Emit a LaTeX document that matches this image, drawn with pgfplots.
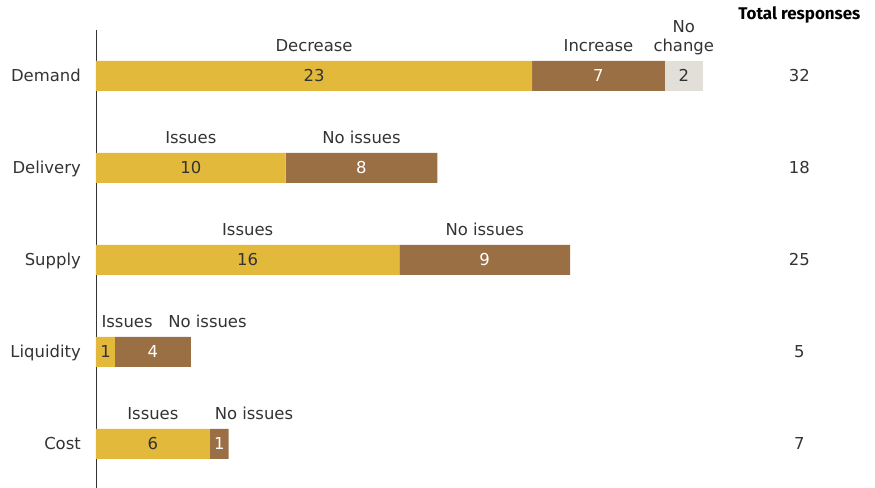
\documentclass[border=0pt]{standalone}
\usepackage{pgfplots}
\pgfplotsset{compat=1.18}
\usepackage{fontspec}
\setmainfont{DejaVu Sans}
\newfontfamily\headfont{Fira Sans}
\definecolor{gold}{HTML}{E3B93B}
\definecolor{brown}{HTML}{9B6F44}
\definecolor{lgray}{HTML}{E2DFD8}
\definecolor{txt}{HTML}{333333}
\newcommand{\lf}{\fontsize{16.5}{19}\selectfont}
\begin{document}
\begin{tikzpicture}[x=1bp,y=1bp]
\pgfplotsset{base/.style={
  at={(0,0)}, anchor=south west, scale only axis,
  width=758.4bp, height=458bp,
  xmin=0, xmax=40, ymin=-0.5, ymax=4.48, y dir=reverse,
  clip=false,
}}
\path[use as bounding box] (-96,0) rectangle (779,488);
\begin{axis}[base, xbar stacked, bar width=30bp,
  hide x axis, axis y line*=left,
  axis line style={txt, line width=0.8bp},
  ytick={0,1,2,3,4}, yticklabels={Demand,Delivery,Supply,Liquidity,Cost},
  major tick length=0pt,
  yticklabel style={font=\lf, text=txt, inner sep=0pt, anchor=base east, xshift=-15bp, yshift=-6bp},
]
\addplot[fill=gold, draw=none] coordinates {(23,0) (10,1) (16,2) (1,3) (6,4)};
\addplot[fill=brown, draw=none] coordinates {(7,0) (8,1) (9,2) (4,3) (1,4)};
\addplot[fill=lgray, draw=none] coordinates {(2,0)};
\end{axis}
\begin{axis}[base, hide axis]
% numbers inside bars, dark
\addplot[draw=none, mark=none, nodes near coords, point meta=explicit symbolic,
  nodes near coords style={font=\lf, text=txt, anchor=base, inner sep=0pt, yshift=-6bp}]
  coordinates {(11.5,0) [23] (31,0) [2] (5,1) [10] (8,2) [16] (0.5,3) [1] (3,4) [6]};
% numbers inside bars, white
\addplot[draw=none, mark=none, nodes near coords, point meta=explicit symbolic,
  nodes near coords style={font=\lf, text=white, anchor=base, inner sep=0pt, yshift=-6bp}]
  coordinates {(26.5,0) [7] (14,1) [8] (20.5,2) [9] (3,3) [4] (6.5,4) [1]};
% segment labels above bars
\addplot[draw=none, mark=none, nodes near coords, point meta=explicit symbolic,
  nodes near coords style={font=\lf, text=txt, anchor=base, inner sep=0pt, yshift=24bp}]
  coordinates {(11.5,0) [Decrease] (26.5,0) [Increase] (31,0) [change]
               (5,1) [Issues] (14,1) [No issues]
               (8,2) [Issues] (20.5,2) [No issues]
               (1.64,3) [Issues] (5.88,3) [No issues]
               (3,4) [Issues] (8.33,4) [No issues]};
\addplot[draw=none, mark=none, nodes near coords, point meta=explicit symbolic,
  nodes near coords style={font=\lf, text=txt, anchor=base, inner sep=0pt, yshift=43bp}]
  coordinates {(31,0) [No]};
% totals
\addplot[draw=none, mark=none, nodes near coords, point meta=explicit symbolic,
  nodes near coords style={font=\lf, text=txt, anchor=base, inner sep=0pt, yshift=-6bp}]
  coordinates {(37.1,0) [32] (37.1,1) [18] (37.1,2) [25] (37.1,3) [5] (37.1,4) [7]};
\addplot[draw=none, mark=none, nodes near coords, point meta=explicit symbolic,
  nodes near coords style={font=\headfont\fontsize{17}{20}\selectfont\bfseries, text=black, anchor=base, inner sep=0pt, yshift=56bp}]
  coordinates {(37.1,0) [Total responses]};
\end{axis}
\end{tikzpicture}
\end{document}
